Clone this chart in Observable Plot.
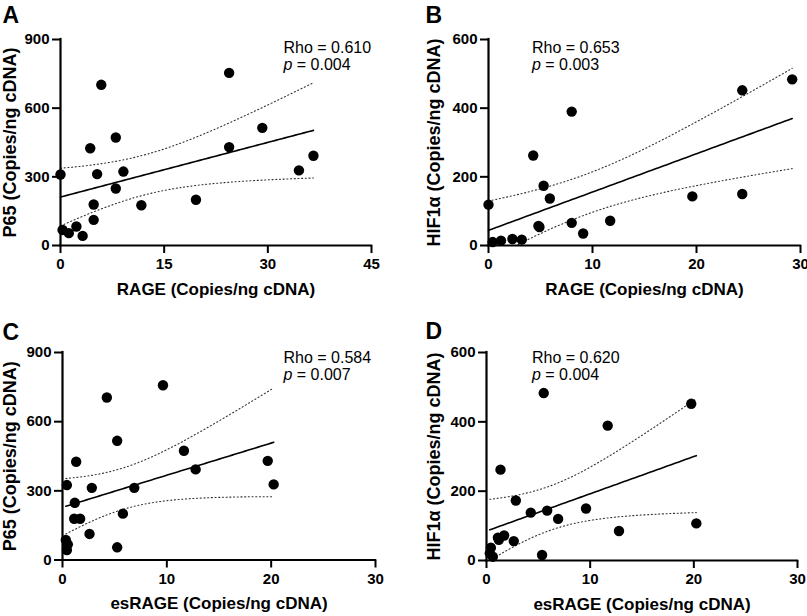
<!DOCTYPE html>
<html><head><meta charset="utf-8">
<script src="https://cdn.jsdelivr.net/npm/d3@7"></script>
<script src="https://cdn.jsdelivr.net/npm/@observablehq/plot@0.6"></script>
<style>
body{margin:0;background:#fff;}
#root{position:relative;width:807px;height:616px;overflow:hidden;background:#fff;font-family:"Liberation Sans",Arial,sans-serif;}
.panel{position:absolute;}
</style></head><body><div id="root"></div>
<script>
// ---- Data ----
// Panel A: RAGE vs P65
const rageA = [0, 0.3, 1.2, 2.3, 3.2, 4.3, 4.8, 4.8, 5.3, 5.9, 8.0, 8.0, 9.1, 11.7, 19.6, 24.4, 24.4, 29.2, 34.5, 36.6];
const p65A  = [310, 68, 54, 83, 42, 425, 179, 112, 312, 702, 472, 249, 323, 176, 200, 754, 430, 514, 328, 392];
// Panel B: RAGE vs HIF1α
const rageB = [0, 0.4, 1.2, 2.3, 3.2, 4.3, 4.8, 4.9, 5.3, 5.9, 8.0, 8.0, 9.1, 11.7, 19.6, 24.4, 24.4, 29.2];
const hifB  = [119, 10, 14, 19, 17, 262, 57, 54, 174, 137, 390, 66, 35, 72, 143, 452, 150, 484];
// Panel C: esRAGE vs P65
const esC  = [0.42, 1.31, 1.18, 1.12, 1.69, 0.32, 0.51, 0.42, 2.81, 2.59, 4.25, 5.24, 5.24, 5.79, 6.88, 9.63, 11.64, 12.76, 19.67, 20.24];
const p65C = [325, 426, 248, 179, 179, 87, 68, 43, 313, 113, 705, 517, 55, 201, 313, 758, 474, 393, 430, 328];
// Panel D: esRAGE vs HIF1α
const esD  = [5.52, 19.75, 11.69, 1.35, 2.83, 4.27, 5.85, 9.6, 6.91, 12.78, 20.24, 1.7, 1.19, 1.1, 2.63, 0.42, 0.32, 0.61, 5.36];
const hifD = [483, 452, 389, 262, 173, 138, 144, 150, 120, 85, 107, 72, 60, 66, 56, 37, 21, 11, 16];

const panelLetters = ["A", "B", "C", "D"];
const xLabels = ["RAGE (Copies/ng cDNA)", "RAGE (Copies/ng cDNA)", "esRAGE (Copies/ng cDNA)", "esRAGE (Copies/ng cDNA)"];
const yLabels = ["P65 (Copies/ng cDNA)", "HIF1α (Copies/ng cDNA)", "P65 (Copies/ng cDNA)", "HIF1α (Copies/ng cDNA)"];
const rhoTexts = ["Rho = 0.610", "Rho = 0.653", "Rho = 0.584", "Rho = 0.620"];
const pTexts = ["= 0.004", "= 0.003", "= 0.007", "= 0.004"];
const xTicksA = [0, 15, 30, 45];
const xTicksB = [0, 10, 20, 30];
const yTicksP65 = [0, 300, 600, 900];
const yTicksHIF = [0, 200, 400, 600];

// t critical values (two-sided 95%) by degrees of freedom
const T975 = {15: 2.131, 16: 2.120, 17: 2.110, 18: 2.101};

function fitCI(xs, ys) {
  const n = xs.length;
  const mx = d3.mean(xs), my = d3.mean(ys);
  let sxx = 0, sxy = 0;
  for (let i = 0; i < n; i++) { sxx += (xs[i] - mx) ** 2; sxy += (xs[i] - mx) * (ys[i] - my); }
  const b = sxy / sxx, a = my - b * mx;
  let sse = 0;
  for (let i = 0; i < n; i++) sse += (ys[i] - a - b * xs[i]) ** 2;
  const s = Math.sqrt(sse / (n - 2));
  const t = T975[n - 2];
  const [x0, x1] = d3.extent(xs);
  return d3.range(0, 81).map(i => {
    const x = x0 + (x1 - x0) * i / 80;
    const yh = a + b * x;
    const se = s * Math.sqrt(1 / n + (x - mx) ** 2 / sxx);
    return {x, y: yh, lo: yh - t * se, hi: yh + t * se};
  });
}

function panel(cfg) {
  const pts = cfg.xs.map((x, i) => ({x, y: cfg.ys[i]}));
  const curve = fitCI(cfg.xs, cfg.ys);
  const bold = {fontWeight: "bold", fill: "black"};
  const chart = Plot.plot({
    width: cfg.width, height: cfg.height,
    marginLeft: cfg.ml, marginRight: cfg.mr, marginTop: cfg.mt, marginBottom: cfg.mb,
    style: {fontFamily: "Liberation Sans, Arial, sans-serif", color: "black", background: "white", overflow: "visible"},
    x: {domain: [0, cfg.xTicks[cfg.xTicks.length - 1]]},
    y: {domain: [0, cfg.yTicks[cfg.yTicks.length - 1]]},
    marks: [
      Plot.line(curve, {x: "x", y: "hi", stroke: "#333", strokeWidth: 1.1, strokeDasharray: "1.1,2.6", clip: true}),
      Plot.line(curve, {x: "x", y: "lo", stroke: "#333", strokeWidth: 1.1, strokeDasharray: "1.1,2.6", clip: true}),
      Plot.line(curve, {x: "x", y: "y", stroke: "black", strokeWidth: 1.6}),
      Plot.dot(pts, {x: "x", y: "y", r: 5.2, fill: "black", stroke: "none"}),
      Plot.ruleY([0], {stroke: "black", strokeWidth: 2.2, strokeLinecap: "square"}),
      Plot.ruleX([0], {stroke: "black", strokeWidth: 2.2, strokeLinecap: "square"}),
      Plot.axisX({ticks: cfg.xTicks, tickSize: 8, tickPadding: 5, strokeWidth: 2, fontSize: 15, fontWeight: "bold", label: null}),
      Plot.axisY({ticks: cfg.yTicks, tickSize: 8, tickPadding: 3, strokeWidth: 2, fontSize: 15, fontWeight: "bold", label: null}),
      Plot.text([cfg.letter], {text: d => d, frameAnchor: "top-left", dx: cfg.letterDx, dy: cfg.letterDy, textAnchor: "start", lineAnchor: "middle", fontSize: 23, ...bold}),
      Plot.text([cfg.yLabel], {text: d => d, frameAnchor: "left", rotate: -90, dx: cfg.yLabelDx, textAnchor: "middle", lineAnchor: "middle", fontSize: 18, ...bold}),
      Plot.text([cfg.xLabel], {text: d => d, frameAnchor: "bottom", dy: 44, textAnchor: "middle", lineAnchor: "middle", fontSize: 17, ...bold}),
      Plot.text([cfg.rho], {text: d => d, frameAnchor: "top-left", dx: cfg.rhoDx, dy: cfg.rhoDy, textAnchor: "start", lineAnchor: "middle", fontSize: 16, fontWeight: "normal", fill: "black"}),
      Plot.text(["p"], {text: d => d, frameAnchor: "top-left", dx: cfg.rhoDx, dy: cfg.rhoDy + 17, textAnchor: "start", lineAnchor: "middle", fontSize: 16, fontStyle: "italic", fontWeight: "normal", fill: "black"}),
      Plot.text([cfg.p], {text: d => d, frameAnchor: "top-left", dx: cfg.rhoDx + 13.3, dy: cfg.rhoDy + 17, textAnchor: "start", lineAnchor: "middle", fontSize: 16, fontWeight: "normal", fill: "black"})
    ]
  });
  const wrap = document.createElement("div");
  wrap.className = "panel";
  wrap.style.left = cfg.left + "px";
  wrap.style.top = cfg.top + "px";
  wrap.appendChild(chart);
  document.getElementById("root").appendChild(wrap);
}

panel({left: 0, top: 0, width: 400, height: 305, ml: 60, mr: 29, mt: 39, mb: 60,
  xs: rageA, ys: p65A, xTicks: xTicksA, yTicks: yTicksP65,
  letter: panelLetters[0], letterDx: -58, letterDy: -24, yLabel: yLabels[0], yLabelDx: -50.5, xLabel: xLabels[0],
  rho: rhoTexts[0], p: pTexts[0], rhoDx: 223, rhoDy: 8.5});
panel({left: 400, top: 0, width: 407, height: 305, ml: 88, mr: 7, mt: 39, mb: 60,
  xs: rageB, ys: hifB, xTicks: xTicksB, yTicks: yTicksHIF,
  letter: panelLetters[1], letterDx: -63, letterDy: -24, yLabel: yLabels[1], yLabelDx: -54, xLabel: xLabels[1],
  rho: rhoTexts[1], p: pTexts[1], rhoDx: 43.5, rhoDy: 8});
panel({left: 0, top: 310, width: 400, height: 306, ml: 62, mr: 25, mt: 42, mb: 56.5,
  xs: esC, ys: p65C, xTicks: xTicksB, yTicks: yTicksP65,
  letter: panelLetters[2], letterDx: -60, letterDy: -20, yLabel: yLabels[2], yLabelDx: -52, xLabel: xLabels[2],
  rho: rhoTexts[2], p: pTexts[2], rhoDx: 221, rhoDy: 5.5});
panel({left: 400, top: 310, width: 407, height: 306, ml: 86, mr: 10, mt: 42, mb: 56,
  xs: esD, ys: hifD, xTicks: xTicksB, yTicks: yTicksHIF,
  letter: panelLetters[3], letterDx: -61, letterDy: -21, yLabel: yLabels[3], yLabelDx: -52, xLabel: xLabels[3],
  rho: rhoTexts[3], p: pTexts[3], rhoDx: 45.5, rhoDy: 5.5});
</script>
</body></html>
